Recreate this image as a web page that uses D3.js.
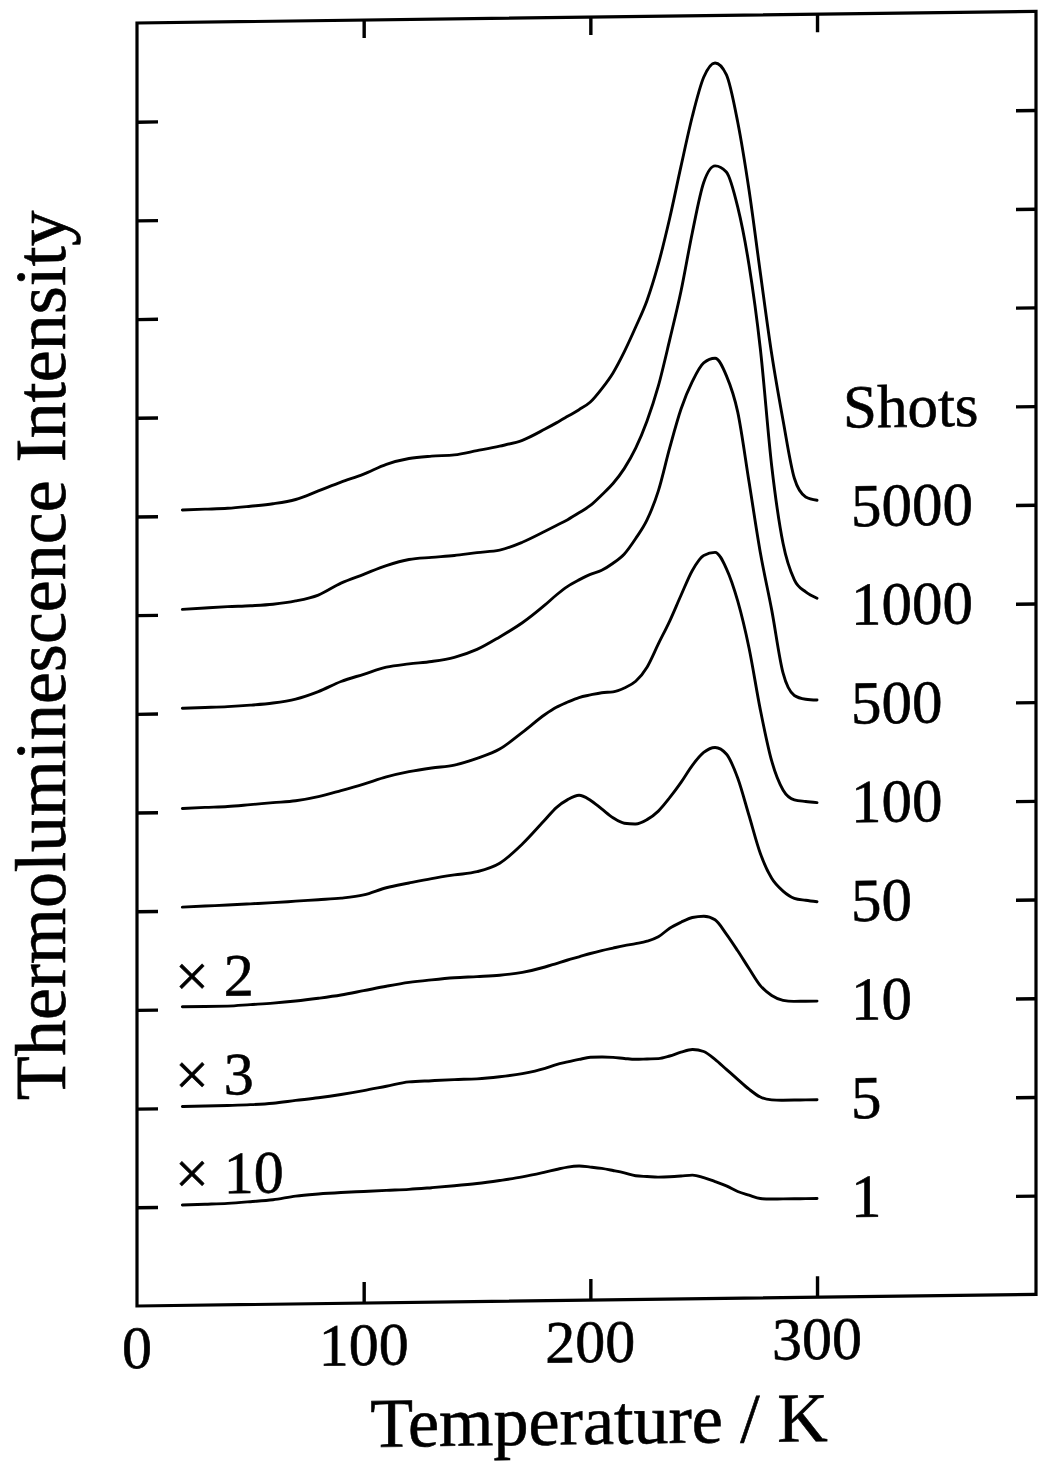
<!DOCTYPE html>
<html>
<head>
<meta charset="utf-8">
<script src="https://cdn.jsdelivr.net/npm/d3@7"></script>
<style>
  html, body { margin: 0; padding: 0; background: #fff; }
  svg { display: block; }
  text { font-family: "Liberation Serif", "Times New Roman", serif; fill: #000; stroke: #000; stroke-width: 0.6px; }
</style>
</head>
<body>
<svg id="chart" width="1038" height="1463"></svg>
<script>
// Sample temperatures (K) shared by every glow curve
const temperatures = [20, 30, 40, 50, 60, 70, 80, 90, 100, 110, 120, 130, 140, 150, 160, 170, 180,
  185, 190, 195, 200, 205, 210, 215, 220, 225, 230, 235, 240, 245, 250, 255, 260, 265, 270, 275, 280,
  285, 290, 295, 300];

// Thermoluminescence intensity of each curve, above its own baseline (one baseline step = 1)
const shots5000 = [0.060, 0.065, 0.071, 0.089, 0.111, 0.151, 0.235, 0.321, 0.399, 0.495, 0.551, 0.572,
  0.582, 0.622, 0.665, 0.721, 0.832, 0.893, 0.958, 1.024, 1.100, 1.232, 1.392, 1.606, 1.854, 2.122, 2.490,
  2.952, 3.478, 3.982, 4.375, 4.519, 4.400, 3.918, 3.227, 2.385, 1.562, 0.890, 0.300, 0.110, 0.075];
const shots1000 = [0.053, 0.064, 0.074, 0.081, 0.093, 0.123, 0.180, 0.298, 0.384, 0.469, 0.528, 0.547,
  0.563, 0.589, 0.611, 0.688, 0.796, 0.853, 0.911, 0.979, 1.052, 1.157, 1.271, 1.423, 1.626, 1.900, 2.254,
  2.719, 3.213, 3.805, 4.309, 4.476, 4.413, 4.057, 3.467, 2.615, 1.428, 0.643, 0.271, 0.147, 0.082];
const shots500 = [0.050, 0.055, 0.061, 0.073, 0.092, 0.129, 0.202, 0.301, 0.371, 0.440, 0.470, 0.492,
  0.531, 0.608, 0.732, 0.872, 1.050, 1.149, 1.235, 1.299, 1.354, 1.394, 1.463, 1.556, 1.711, 1.898, 2.190,
  2.624, 3.017, 3.295, 3.481, 3.527, 3.350, 2.980, 2.270, 1.550, 0.970, 0.330, 0.100, 0.060, 0.050];
const shots100 = [0.035, 0.043, 0.049, 0.065, 0.082, 0.098, 0.137, 0.196, 0.259, 0.328, 0.378, 0.413,
  0.439, 0.504, 0.595, 0.761, 0.939, 1.011, 1.063, 1.107, 1.132, 1.153, 1.160, 1.198, 1.264, 1.406, 1.640,
  1.870, 2.130, 2.380, 2.530, 2.560, 2.395, 2.065, 1.587, 0.958, 0.439, 0.144, 0.042, 0.024, 0.011];
const shots50 = [0.036, 0.044, 0.051, 0.060, 0.069, 0.081, 0.093, 0.106, 0.135, 0.205, 0.250, 0.292,
  0.326, 0.356, 0.438, 0.630, 0.873, 0.995, 1.074, 1.117, 1.065, 0.975, 0.884, 0.827, 0.818, 0.861, 0.946,
  1.080, 1.234, 1.405, 1.534, 1.583, 1.515, 1.271, 0.889, 0.502, 0.250, 0.119, 0.044, 0.023, 0.007];
const shots10 = [0.026, 0.026, 0.027, 0.039, 0.051, 0.069, 0.094, 0.124, 0.165, 0.207, 0.243, 0.266,
  0.284, 0.293, 0.304, 0.330, 0.381, 0.415, 0.449, 0.480, 0.512, 0.540, 0.564, 0.587, 0.606, 0.629, 0.672,
  0.758, 0.817, 0.863, 0.875, 0.837, 0.691, 0.520, 0.339, 0.164, 0.063, 0.012, 0.000, 0.000, 0.000];
const shots5 = [0.015, 0.017, 0.020, 0.025, 0.037, 0.062, 0.086, 0.116, 0.152, 0.194, 0.235, 0.244,
  0.252, 0.257, 0.275, 0.304, 0.354, 0.391, 0.416, 0.440, 0.460, 0.462, 0.456, 0.444, 0.434, 0.436, 0.438,
  0.463, 0.500, 0.526, 0.504, 0.423, 0.320, 0.217, 0.116, 0.035, 0.005, 0.000, 0.000, 0.000, 0.000];
const shots1 = [0.017, 0.022, 0.028, 0.042, 0.059, 0.093, 0.111, 0.123, 0.131, 0.139, 0.146, 0.160,
  0.176, 0.196, 0.224, 0.257, 0.303, 0.328, 0.351, 0.360, 0.348, 0.333, 0.310, 0.285, 0.254, 0.245, 0.237,
  0.239, 0.245, 0.253, 0.226, 0.185, 0.140, 0.081, 0.042, 0.007, 0.000, 0.000, 0.000, 0.000, 0.000];

// Curve labels (number of shots), vertical stacking offsets and scale factors
const shotLabels = ["5000", "1000", "500", "100", "50", "10", "5", "1"];
const baselines = [8, 7, 6, 5, 4, 3, 2, 1];
const magnifications = ["", "", "", "", "", "× 2", "× 3", "× 10"];
const seriesValues = [shots5000, shots1000, shots500, shots100, shots50, shots10, shots5, shots1];

// Axis ticks
const xTickValues = [100, 200, 300];
const xTickLabels = [0, 100, 200, 300];
const yTickValues = [1, 2, 3, 4, 5, 6, 7, 8, 9, 10, 11, 12];

const svg = d3.select("#chart");

const x = d3.scaleLinear().domain([0, 396.6]).range([137, 1036]);
const y = d3.scaleLinear().domain([0, 13]).range([1306, 23]);

// The whole figure is drawn with a slight vertical shear
const shear = -0.745; // degrees
const plot = svg.append("g")
  .attr("transform", `translate(${x(0)},0) skewY(${shear}) translate(${-x(0)},0)`);

// Frame
plot.append("rect")
  .attr("x", x(0)).attr("y", y(13))
  .attr("width", x(396.6) - x(0)).attr("height", y(0) - y(13))
  .attr("fill", "none").attr("stroke", "#000").attr("stroke-width", 3.2);

function styleAxis(g) {
  g.select(".domain").remove();
  g.selectAll(".tick line").attr("stroke", "#000").attr("stroke-width", 3.4);
  g.selectAll(".tick text").remove();
}

plot.append("g").attr("transform", `translate(${x(0)},0)`)
  .call(d3.axisRight(y).tickValues(yTickValues).tickSize(21).tickFormat(""))
  .call(styleAxis);
plot.append("g").attr("transform", `translate(${x(396.6)},0)`)
  .call(d3.axisLeft(y).tickValues(yTickValues).tickSize(20).tickFormat(""))
  .call(styleAxis);
plot.append("g").attr("transform", `translate(0,${y(0)})`)
  .call(d3.axisTop(x).tickValues(xTickValues).tickSize(21).tickFormat(""))
  .call(styleAxis);
plot.append("g").attr("transform", `translate(0,${y(13)})`)
  .call(d3.axisBottom(x).tickValues(xTickValues).tickSize(18).tickFormat(""))
  .call(styleAxis);

// Tick labels
plot.append("g").selectAll("text").data(xTickLabels).join("text")
  .attr("x", d => x(d)).attr("y", y(0) + 62)
  .attr("text-anchor", "middle").attr("font-size", 60)
  .text(d => d);

// Glow curves
const line = d3.line()
  .x(d => x(d.t))
  .y(d => y(d.base + d.v))
  .curve(d3.curveMonotoneX);

seriesValues.forEach((vals, i) => {
  const pts = temperatures.map((t, j) => ({ t, v: vals[j], base: baselines[i] }));
  plot.append("path").datum(pts)
    .attr("d", line)
    .attr("fill", "none").attr("stroke", "#000")
    .attr("stroke-width", 2.9).attr("stroke-linejoin", "round").attr("stroke-linecap", "round");
});

// Shot-count labels at the right end of each curve
plot.append("text").attr("x", 843).attr("y", y(9) + 19)
  .attr("font-size", 61).text("Shots");
plot.append("g").selectAll("text").data(shotLabels).join("text")
  .attr("x", 851).attr("y", (d, i) => y(baselines[i]) + 19)
  .attr("font-size", 61).text(d => d);

// Magnification factors for the weak curves
plot.append("g").selectAll("text")
  .data(magnifications.map((m, i) => ({ m, b: baselines[i] })).filter(d => d.m))
  .join("text")
  .attr("x", 175).attr("y", d => y(d.b) - 13)
  .attr("font-size", 60).text(d => d.m);

// Axis titles
plot.append("text")
  .attr("x", 599).attr("y", 1450)
  .attr("text-anchor", "middle").attr("font-size", 70)
  .text("Temperature / K");

plot.append("text")
  .attr("transform", "translate(65,654) rotate(-90)")
  .attr("text-anchor", "middle").attr("font-size", 72)
  .text("Thermoluminescence Intensity");
</script>
</body>
</html>
